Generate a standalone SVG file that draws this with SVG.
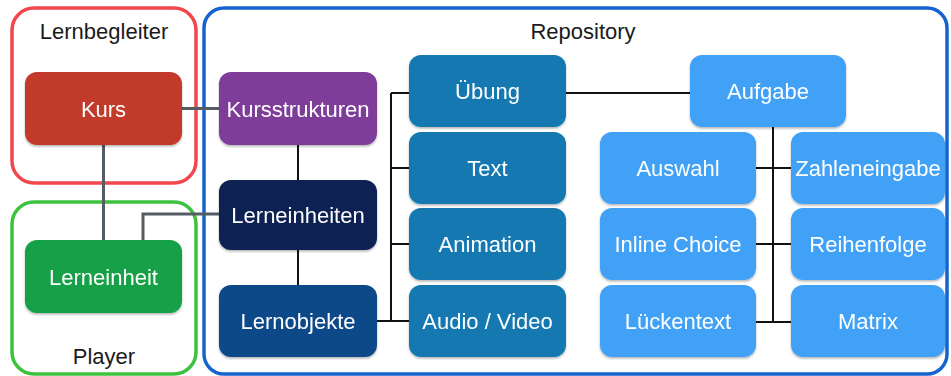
<svg xmlns="http://www.w3.org/2000/svg" width="951" height="376" viewBox="0 0 951 376">
<defs>
<filter id="sh" x="-10%" y="-10%" width="120%" height="130%">
<feDropShadow dx="0" dy="1.5" stdDeviation="1.2" flood-color="#000" flood-opacity="0.3"/>
</filter>
</defs>
<style>
.frame{fill:none;stroke-width:3.5}
.node{filter:url(#sh)}
.lbl{font-family:"Liberation Sans",Arial,sans-serif;font-size:22px;fill:#fff;text-anchor:middle}
.flbl{font-family:"Liberation Sans",Arial,sans-serif;font-size:22px;fill:#1a1a1a;text-anchor:middle}
.c{fill:none;stroke:#111;stroke-width:2}
.cg{fill:none;stroke:#555c64;stroke-width:3}
</style>
<rect width="951" height="376" fill="#fff"/>
<g id="frame-lernbegleiter">
<rect class="frame" x="12" y="8" width="184" height="175" rx="22" stroke="#f2474c"/>
<text class="flbl" x="104" y="39">Lernbegleiter</text>
</g>
<g id="frame-player">
<rect class="frame" x="12" y="202" width="184" height="172" rx="22" stroke="#3ec23e"/>
<text class="flbl" x="104" y="364">Player</text>
</g>
<g id="frame-repository">
<rect class="frame" x="204" y="8" width="743" height="366" rx="20" stroke="#1463cf"/>
<text class="flbl" x="583" y="39">Repository</text>
</g>
<g id="connectors">
<path class="cg" d="M182,108.5 H219"/>
<path class="cg" d="M103.5,145 V240"/>
<path class="cg" d="M219,214 H143 V240"/>
<path class="c" d="M298,145 V180"/>
<path class="c" d="M298,250 V285"/>
<path class="c" d="M377,321 H409"/>
<path class="c" d="M391,93 V321"/>
<path class="c" d="M391,93 H409 M391,168 H409 M391,244 H409"/>
<path class="c" d="M566,93 H690"/>
<path class="c" d="M773,127 V323"/>
<path class="c" d="M756,168 H791 M756,244 H791 M756,322 H791"/>
</g>
<g id="kurs" class="node">
<rect x="25" y="72" width="157" height="73" rx="12" fill="#c23a2b"/>
<text class="lbl" x="103.5" y="116.5">Kurs</text>
</g>
<g id="kursstrukturen" class="node">
<rect x="219" y="72" width="158" height="73" rx="12" fill="#7e3d99"/>
<text class="lbl" x="298" y="116.5">Kursstrukturen</text>
</g>
<g id="lerneinheiten" class="node">
<rect x="219" y="180" width="158" height="70" rx="12" fill="#0c2052"/>
<text class="lbl" x="298" y="223">Lerneinheiten</text>
</g>
<g id="lerneinheit" class="node">
<rect x="25" y="240" width="157" height="73" rx="12" fill="#17a046"/>
<text class="lbl" x="103.5" y="284.5">Lerneinheit</text>
</g>
<g id="lernobjekte" class="node">
<rect x="219" y="285" width="158" height="72" rx="12" fill="#0f4a89"/>
<text class="lbl" x="298" y="329">Lernobjekte</text>
</g>
<g id="uebung" class="node">
<rect x="409" y="55" width="157" height="72" rx="12" fill="#1278b1"/>
<text class="lbl" x="487.5" y="99">Übung</text>
</g>
<g id="text" class="node">
<rect x="409" y="132" width="157" height="72" rx="12" fill="#1278b1"/>
<text class="lbl" x="487.5" y="176">Text</text>
</g>
<g id="animation" class="node">
<rect x="409" y="208" width="157" height="72" rx="12" fill="#1278b1"/>
<text class="lbl" x="487.5" y="252">Animation</text>
</g>
<g id="audio-video" class="node">
<rect x="409" y="285" width="157" height="72" rx="12" fill="#1278b1"/>
<text class="lbl" x="487.5" y="329">Audio / Video</text>
</g>
<g id="aufgabe" class="node">
<rect x="690" y="55" width="156" height="72" rx="12" fill="#41a1f6"/>
<text class="lbl" x="768" y="99">Aufgabe</text>
</g>
<g id="auswahl" class="node">
<rect x="600" y="132" width="156" height="72" rx="12" fill="#41a1f6"/>
<text class="lbl" x="678" y="176">Auswahl</text>
</g>
<g id="inline-choice" class="node">
<rect x="600" y="208" width="156" height="72" rx="12" fill="#41a1f6"/>
<text class="lbl" x="678" y="252">Inline Choice</text>
</g>
<g id="lueckentext" class="node">
<rect x="600" y="285" width="156" height="72" rx="12" fill="#41a1f6"/>
<text class="lbl" x="678" y="329">Lückentext</text>
</g>
<g id="zahleneingabe" class="node">
<rect x="791" y="132" width="154" height="72" rx="12" fill="#41a1f6"/>
<text class="lbl" x="868" y="176">Zahleneingabe</text>
</g>
<g id="reihenfolge" class="node">
<rect x="791" y="208" width="154" height="72" rx="12" fill="#41a1f6"/>
<text class="lbl" x="868" y="252">Reihenfolge</text>
</g>
<g id="matrix" class="node">
<rect x="791" y="285" width="154" height="72" rx="12" fill="#41a1f6"/>
<text class="lbl" x="868" y="329">Matrix</text>
</g>
</svg>
